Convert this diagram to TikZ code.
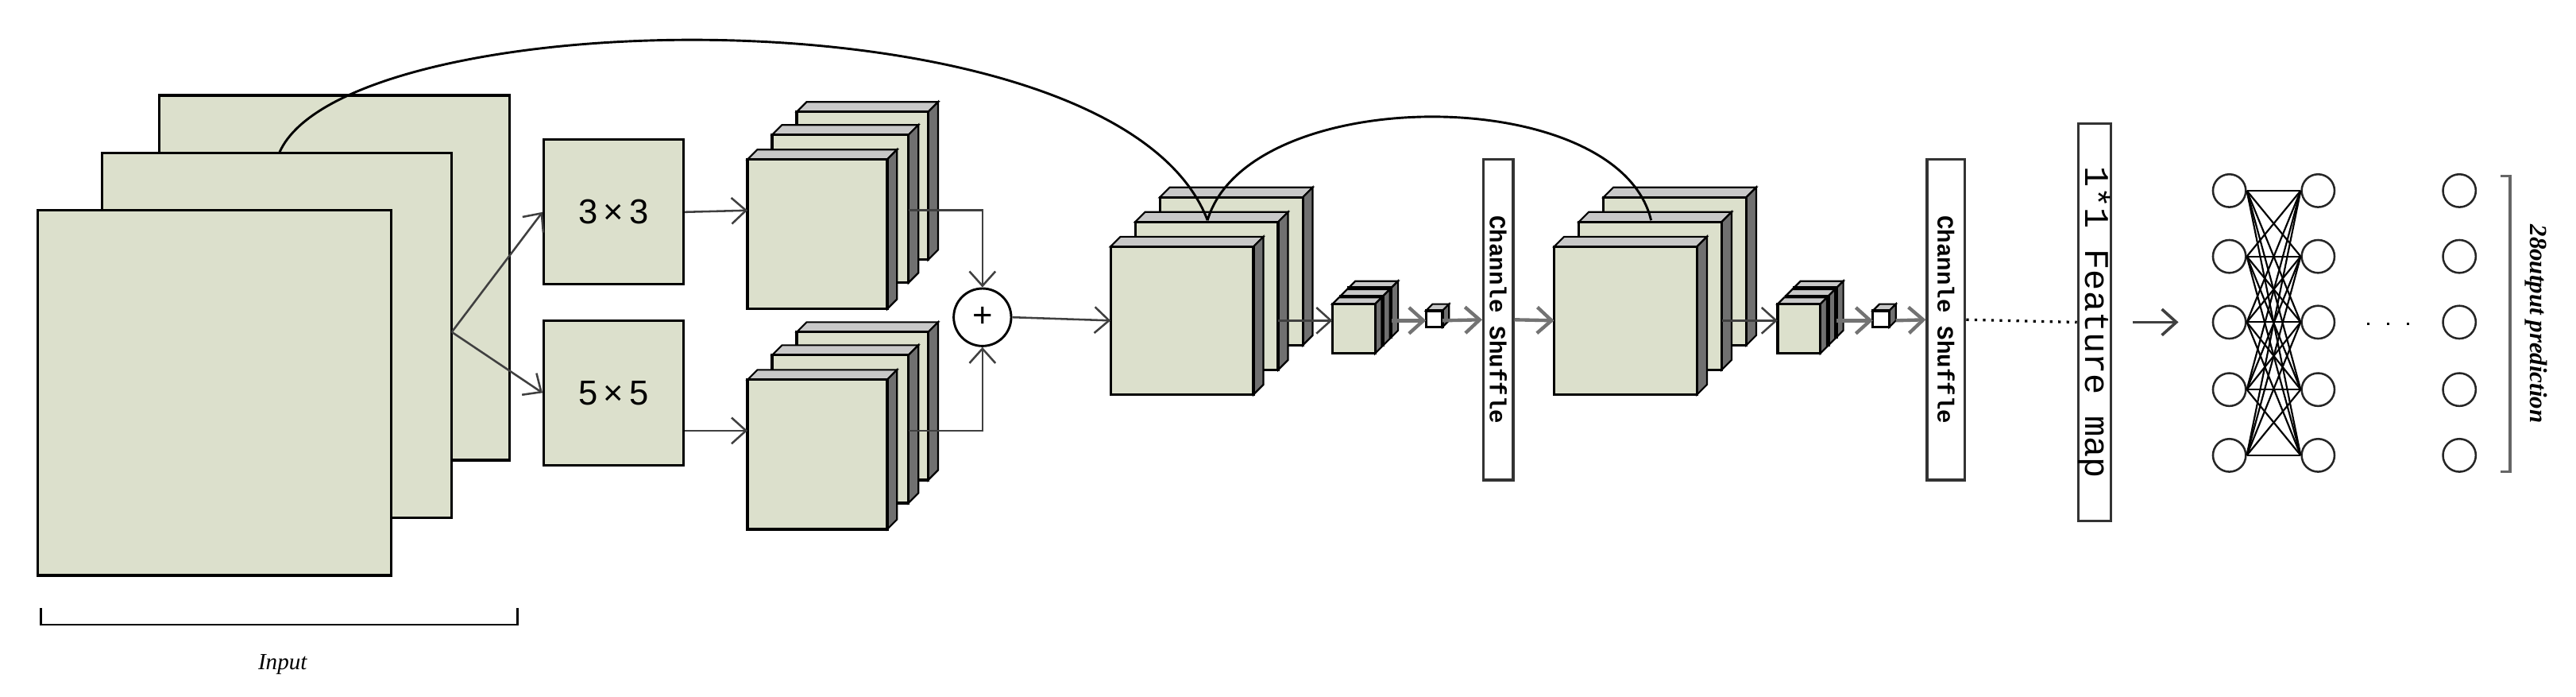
\documentclass[tikz,border=0pt]{standalone}
\usepackage{fontspec}
\setmainfont{Liberation Serif}
\newfontfamily\sansf{Liberation Sans}
\newfontfamily\monof{Liberation Mono}
\usetikzlibrary{arrows.meta}
\definecolor{fc}{HTML}{DCE0CC}
\definecolor{topc}{HTML}{C8C8C8}
\definecolor{sidec}{HTML}{707070}
\newcommand{\myslab}[6][fc]{%
  \fill[topc,draw=black,line width=0.6pt] (#2,#3)--({#2+#6},{#3-#6})--({#4+#6},{#3-#6})--(#4,#3)--cycle;
  \fill[sidec,draw=black,line width=0.6pt] (#4,#3)--({#4+#6},{#3-#6})--({#4+#6},{#5-#6})--(#4,#5)--cycle;
  \draw[fill=#1,draw=black,line width=0.9pt] (#2,#3) rectangle (#4,#5);}
\begin{document}
\begin{tikzpicture}[x=0.02cm,y=-0.02cm,
  box/.style={draw=black,fill=fc,line width=0.9pt,minimum width=1.7cm,minimum height=1.76cm,font=\sansf\fontsize{12}{12}\selectfont},
  bar/.style={draw=black!80,fill=white,line width=0.9pt,inner sep=0pt},
  neu/.style={circle,draw=black!85,line width=0.7pt,minimum size=0.4cm,inner sep=0pt},
  arr/.style={-{Straight Barb[length=5pt,width=9pt]},line width=0.7pt,black!75},
  ln/.style={line width=0.8pt}]
\useasboundingbox (0,0) rectangle (1568,424);
% input sheets
\draw[fill=fc,line width=0.9pt] (97,58) rectangle (310,280);
\draw[fill=fc,line width=0.9pt] (62,93) rectangle (275,315);
\draw[fill=fc,line width=0.9pt] (23,128) rectangle (238,350);
\coordinate (split) at (275,202);
\coordinate (skipA) at (170,93);
% input bracket
\draw[line width=0.8pt] (25,370)--(25,380)--(315,380)--(315,370);
\node[font=\itshape\fontsize{8}{8}\selectfont] (inlab) at (172,404) {Input};
% conv boxes
\node[box] (b3) at (373.5,129) {3\,×\,3};
\node[box] (b5) at (373.5,239) {5\,×\,5};
\draw[arr] (split)--(b3.west);
\draw[arr] (split)--(b5.west);
% stacks top & bottom
\myslab{485}{68}{565}{158}{6}
\myslab{470}{82}{553}{172}{6}
\myslab{455}{97}{540}{188}{6}
\myslab{485}{202}{565}{292}{6}
\myslab{470}{216}{553}{306}{6}
\myslab{455}{231}{540}{322}{6}
\coordinate (s1) at (455,128);
\coordinate (s2) at (455,262);
\draw[arr] (b3.east)--(s1);
\draw[arr] (b5.east|-s2)--(s2);
\node[circle,draw=black,line width=0.8pt,minimum size=0.7cm,inner sep=0pt,font=\sansf\fontsize{12}{12}\selectfont] (plus) at (598,193) {+};
\coordinate (o1) at (553,128);
\coordinate (o2) at (553,262);
\draw[arr] (o1)-|(plus.north);
\draw[arr] (o2)-|(plus.south);
% big stack 2
\myslab{706}{120}{793}{210}{6}
\myslab{691}{135}{778}{225}{6}
\myslab{676}{150}{763}{240}{6}
\coordinate (c2) at (676,195);
\draw[arr] (plus.east)--(c2);
\myslab{821}{175}{847}{205}{4}
\myslab{816}{180}{842}{210}{4}
\myslab{811}{185}{837}{215}{4}
\draw[arr] (778,195)--(811,195);
\myslab[white]{868}{189}{878}{199}{4}
\draw[arr,line width=1.2pt,black!55] (847,195)--(868,195);
\node[bar,minimum width=0.36cm,minimum height=3.9cm] (cs1) at (912,194.5) {};
\node[rotate=-90,font=\monof\bfseries\fontsize{8}{8}\selectfont] at (cs1) {Channle Shuffle};
\draw[arr,line width=1.2pt,black!55] (878,195)--(cs1.west);
% stack 3
\myslab{976}{120}{1063}{210}{6}
\myslab{961}{135}{1048}{225}{6}
\myslab{946}{150}{1033}{240}{6}
\coordinate (c3) at (946,195);
\draw[arr,line width=1.2pt,black!55] (cs1.east)--(c3);
\myslab{1092}{175}{1118}{205}{4}
\myslab{1087}{180}{1113}{210}{4}
\myslab{1082}{185}{1108}{215}{4}
\draw[arr] (1048,195)--(1082,195);
\myslab[white]{1140}{189}{1150}{199}{4}
\draw[arr,line width=1.2pt,black!55] (1118,195)--(1140,195);
\node[bar,minimum width=0.46cm,minimum height=3.9cm] (cs2) at (1184.5,194.5) {};
\node[rotate=-90,font=\monof\bfseries\fontsize{8}{8}\selectfont] at (cs2) {Channle Shuffle};
\draw[arr,line width=1.2pt,black!55] (1154,195)--(cs2.west);
% feature map
\node[bar,minimum width=0.4cm,minimum height=4.84cm] (fm) at (1275,196) {};
\node[rotate=-90,font=\monof\fontsize{12}{12}\selectfont] at (fm) {1*1 Feature map};
\draw[dotted,line width=0.9pt] (cs2.east)--(fm.west);
\coordinate (fa) at (1298,196);
\coordinate (fb) at (1326,196);
\draw[arr,line width=1pt] (fa)--(fb);
% NN
\foreach \i/\yy in {1/116,2/156,3/196,4/237,5/277}{
  \node[neu] (l\i) at (1357,\yy) {};
  \node[neu] (r\i) at (1411,\yy) {};
  \node[neu] (o\i) at (1497,\yy) {};
}
\foreach \i in {1,...,5}{\foreach \j in {1,...,5}{\draw[line width=0.6pt] (l\i.east)--(r\j.west);}}
\draw[dash pattern=on 0.8pt off 6pt,line width=1pt] (1441,197)--(1472,197);
\draw[line width=1pt,black!60] (1522,107)--(1528,107)--(1528,287)--(1522,287);
\node[rotate=-90,font=\itshape\bfseries\fontsize{8.5}{8.5}\selectfont] at (1544,197) {28output prediction};
% skip curves
\coordinate (m2) at (735,134);
\coordinate (m3) at (1005,134);
\draw[line width=0.8pt] (skipA) .. controls (210,0) and (680,-10) .. (m2);
\draw[line width=0.8pt] (m2) .. controls (760,50) and (985,50) .. (m3);
\end{tikzpicture}
\end{document}
